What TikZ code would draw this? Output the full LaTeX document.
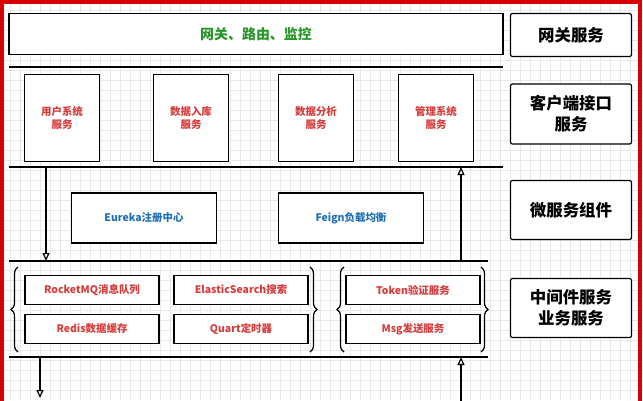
\documentclass[tikz,border=0pt]{standalone}
\usepackage{fontspec}
\setmainfont{Noto Sans CJK SC}
\usetikzlibrary{arrows.meta,decorations.pathreplacing}

\definecolor{gwgreen}{RGB}{40,150,40}
\definecolor{svcred}{RGB}{215,60,60}
\definecolor{compblue}{RGB}{30,110,180}

\tikzset{
  box/.style={draw,line width=1.2bp,fill=white,inner sep=0pt,align=center},
  side/.style={box,rounded corners=2pt,font=\bfseries\fontsize{16.5}{21}\selectfont,minimum width=121bp},
  client/.style={box,minimum width=75bp,minimum height=87bp,text=svcred,font=\bfseries\fontsize{10.5}{13}\selectfont},
  comp/.style={box,minimum width=145bp,minimum height=50bp,text=compblue,font=\bfseries\fontsize{10.5}{12}\selectfont},
  mid/.style={box,minimum width=134bp,minimum height=29bp,text=svcred,font=\bfseries\fontsize{10.5}{12}\selectfont},
  layer/.style={line width=1.4bp},
  flow/.style={line width=1.2bp,-{Triangle[open,length=8bp,width=7bp]}},
  grp/.style={line width=1.2bp,decorate,decoration={brace,amplitude=7bp}}
}

\begin{document}
\begin{tikzpicture}[x=1bp,y=-1bp]
  \useasboundingbox (0,0) rectangle (643,400);
  \clip (0,0) rectangle (643,400);
  % background grid and frame
  \fill[white] (0,0) rectangle (643,400);
  \draw[gray!18,step=10bp] (0,0) grid (643,400);
  \draw[red!85!black,line width=4bp] (2,2) rectangle (640,420);

  % gateway
  \node[box,minimum width=494bp,minimum height=41bp,text=gwgreen,
        font=\bfseries\fontsize{14}{16}\selectfont] (gw) at (256,34) {网关、路由、监控};

  % side labels
  \node[side,minimum height=43bp] (s1) at (571,35) {网关服务};
  \node[side,minimum height=60bp] (s2) at (571,114) {客户端接口\\服务};
  \node[side,minimum height=59bp] (s3) at (571,210) {微服务组件};
  \node[side,minimum height=59bp] (s4) at (571,308) {中间件服务\\业务服务};

  % layer lines
  \draw[layer] (9,67) -- (503,67);
  \draw[layer] (9,167) -- (503,167);
  \draw[layer] (9,261) -- (488,261);
  \draw[layer] (9,357) -- (488,357);

  % client services
  \node[client] (c1) at (62,118) {用户系统\\服务};
  \node[client] (c2) at (191,118) {数据入库\\服务};
  \node[client] (c3) at (316,118) {数据分析\\服务};
  \node[client] (c4) at (436,118) {管理系统\\服务};

  % components
  \node[comp] (eureka) at (144,218) {Eureka注册中心};
  \node[comp] (feign) at (351,218) {Feign负载均衡};

  % middleware
  \node[mid] (mq) at (92,290) {RocketMQ消息队列};
  \node[mid] (es) at (241,290) {ElasticSearch搜索};
  \node[mid] (redis) at (92,329) {Redis数据缓存};
  \node[mid] (quart) at (241,329) {Quart定时器};
  \node[mid] (token) at (413,290) {Token验证服务};
  \node[mid] (msg) at (413,329) {Msg发送服务};

  % braces
  \draw[grp] (18,352) -- (18,267);
  \draw[grp] (310,267) -- (310,352);
  \draw[grp] (344,352) -- (344,267);
  \draw[grp] (481,267) -- (481,352);

  % arrows
  \coordinate (d1) at (46,167);
  \coordinate (d2) at (46,261);
  \coordinate (u1) at (461,261);
  \coordinate (u2) at (461,167);
  \coordinate (d3) at (40,357);
  \coordinate (d4) at (40,398);
  \coordinate (u3) at (461,410);
  \coordinate (u4) at (461,357);
  \draw[flow] (d1) -- (d2);
  \draw[flow] (u1) -- (u2);
  \draw[flow] (d3) -- (d4);
  \draw[flow] (u3) -- (u4);
\end{tikzpicture}
\end{document}
